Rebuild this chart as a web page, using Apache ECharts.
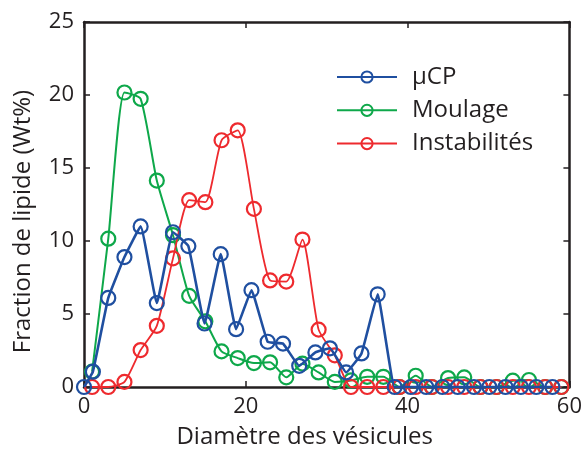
<!DOCTYPE html>
<html><head><meta charset="utf-8">
<script src="https://cdn.jsdelivr.net/npm/echarts@6/dist/echarts.min.js"></script>
<style>html,body{margin:0;padding:0;background:#fff}#c{width:585px;height:454px}</style>
</head><body><div id="c"></div>
<script>
const seriesNames = ['\u00b5CP', 'Moulage', 'Instabilit\u00e9s'];
const xTicks = [0, 20, 40, 60];
const yTicks = [0, 5, 10, 15, 20, 25];

const ucpX = [0, 1.1, 3.0, 5.0, 7.0, 9.0, 11.0, 12.9, 14.9, 16.9, 18.8, 20.7, 22.7, 24.6, 26.6, 28.6, 30.4, 32.4, 34.3, 36.3, 38.4, 40.4, 42.3, 44.3, 46.2, 48.2, 50.1, 52.1, 54.0, 55.9, 57.9];
const ucpY = [0, 1.05, 6.1, 8.9, 11.0, 5.75, 10.6, 9.65, 4.35, 9.1, 3.96, 6.63, 3.1, 2.97, 1.45, 2.37, 2.65, 1.0, 2.3, 6.35, 0, 0, 0, 0, 0, 0, 0, 0, 0, 0, 0];

const moulX = [1, 3, 5, 7, 9, 11, 13, 15, 17, 19, 21, 23, 25, 27, 29, 31, 33, 35, 37, 39, 41, 43, 45, 47, 49, 51, 53, 55, 57, 59];
const moulY = [1.05, 10.16, 20.17, 19.74, 14.14, 10.4, 6.24, 4.5, 2.44, 1.98, 1.64, 1.69, 0.66, 1.6, 1.0, 0.35, 0.45, 0.7, 0.7, 0, 0.77, 0, 0.61, 0.66, 0, 0, 0.43, 0.48, 0, 0];

const instX = [1, 3, 5, 7, 9, 11, 13, 15, 17, 19, 21, 23, 25, 27, 29, 31, 33, 35, 37, 39, 41, 43, 45, 47, 49, 51, 53, 55, 57, 59];
const instY = [0, 0, 0.35, 2.53, 4.19, 8.81, 12.8, 12.66, 16.9, 17.58, 12.2, 7.3, 7.22, 10.1, 3.93, 2.17, 0, 0, 0, 0, 0, 0, 0, 0, 0, 0, 0, 0, 0, 0];

const colors = ['#1f4fa0', '#0ea84a', '#ee2a2e'];
const FONT = 'Open Sans';
const axisCol = '#231f20';

function pairs(xs, ys) { return xs.map((x, i) => [x, ys[i]]); }

function mkSeries(name, xs, ys, color, lw, z, sm) {
  return {
    name: name, type: 'line', xAxisIndex: 0, yAxisIndex: 0, z: z,
    data: pairs(xs, ys),
    smooth: sm,
    symbol: 'circle', symbolSize: 14,
    lineStyle: { color: color, width: lw },
    itemStyle: { color: 'rgba(255,255,255,0)', borderColor: color, borderWidth: 2.2 },
    emphasis: { disabled: true },
    animation: false
  };
}

const chart = echarts.init(document.getElementById('c'), null, { renderer: 'canvas' });
const axBase = {
  type: 'value', min: 0,
  axisLine: { show: true, onZero: false, lineStyle: { color: axisCol, width: 2.5 } },
  axisTick: { show: true, inside: true, length: 6, lineStyle: { color: axisCol, width: 1.5 } },
  splitLine: { show: false }
};
chart.setOption({
  animation: false,
  textStyle: { fontFamily: FONT },
  grid: { left: 84, right: 14, top: 22, bottom: 66 },
  legend: {
    data: seriesNames, orient: 'vertical', left: 336, top: 65, padding: 0,
    itemWidth: 60, itemHeight: 14, itemGap: 9.3,
    textStyle: { fontFamily: FONT, fontSize: 24, color: '#231f20', lineHeight: 24, padding: [0, 0, 0, 10] }
  },
  xAxis: [
    Object.assign({}, axBase, {
      max: xTicks[xTicks.length - 1], interval: xTicks[1] - xTicks[0], position: 'bottom',
      name: 'Diam\u00e8tre des v\u00e9sicules', nameLocation: 'middle', nameGap: 38,
      nameTextStyle: { fontFamily: FONT, fontSize: 24, color: '#231f20', padding: [0, 44, 0, 0] },
      axisLabel: { fontFamily: FONT, fontSize: 22, color: '#231f20', margin: 9 }
    }),
    Object.assign({}, axBase, {
      max: xTicks[xTicks.length - 1], interval: xTicks[1] - xTicks[0], position: 'top',
      axisLabel: { show: false }
    })
  ],
  yAxis: [
    Object.assign({}, axBase, {
      max: yTicks[yTicks.length - 1], interval: yTicks[1] - yTicks[0], position: 'left',
      name: 'Fraction de lipide (Wt%)', nameLocation: 'middle', nameGap: 49,
      nameTextStyle: { fontFamily: FONT, fontSize: 24, color: '#231f20', padding: [0, 34, 0, 0] },
      axisLabel: { fontFamily: FONT, fontSize: 22, color: '#231f20', margin: 10 }
    }),
    Object.assign({}, axBase, {
      max: yTicks[yTicks.length - 1], interval: yTicks[1] - yTicks[0], position: 'right',
      axisLabel: { show: false }
    })
  ],
  series: [
    mkSeries(seriesNames[1], moulX, moulY, colors[1], 2, 2, 0.2),
    mkSeries(seriesNames[2], instX, instY, colors[2], 1.8, 3, 0.2),
    mkSeries(seriesNames[0], ucpX, ucpY, colors[0], 2.6, 4, 0.1)
  ]
});
</script></body></html>
